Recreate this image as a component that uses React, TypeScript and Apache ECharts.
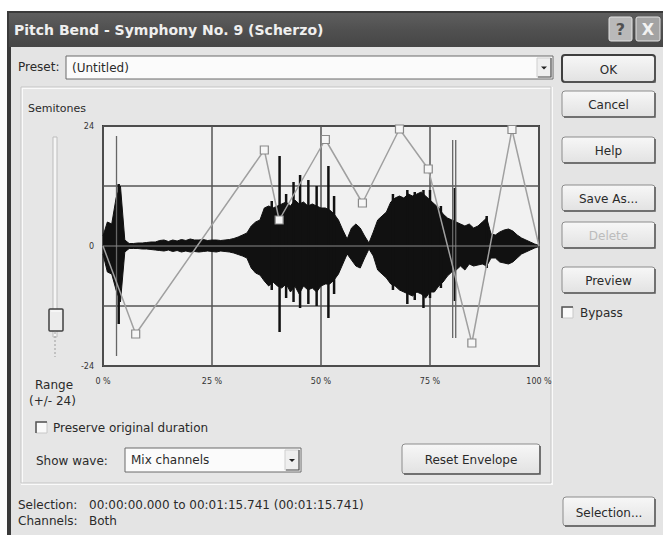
import React, { useEffect, useRef } from "react";
import * as echarts from "echarts";

// ---- data ----
const xTicks = [0, 25, 50, 75, 100];
const yTicks = [-24, 0, 24];

// waveform amplitude envelope, sampled every 1 % of the selection (semitone axis units)
const wavePct = Array.from({ length: 101 }, (_, i) => i);
const waveUpper = [
  2.0, 4.8, 4.4, 9.6, 12, 1.2, 0.5, 0.5, 0.6, 0.6,
  0.7, 0.8, 0.8, 1.1, 1.2, 0.9, 1.2, 1.0, 1.3, 1.1,
  1.4, 1.2, 1.2, 1.3, 1.1, 1.2, 1.2, 1.1, 1.2, 1.3,
  1.5, 1.8, 2.2, 2.6, 4.0, 4.8, 5.2, 7.6, 8.0, 7.6,
  8.0, 8.4, 8.8, 8.0, 9.2, 8.4, 8.8, 8.0, 8.4, 8.0,
  7.6, 7.6, 7.2, 6.4, 5.2, 3.2, 1.4, 3.6, 4.4, 3.6,
  2.0, 0.6, 2.8, 5.2, 6.0, 6.8, 8.8, 9.6, 10.0, 9.6,
  10.4, 10.0, 10.4, 10.8, 10.0, 9.2, 8.4, 7.6, 6.4, 5.6,
  5.2, 4.8, 4.4, 4.0, 4.4, 3.6, 4.0, 4.8, 5.6, 2.4,
  2.2, 2.8, 3.2, 3.4, 3.0, 2.2, 1.6, 1.2, 0.8, 0.4,
  0.1,
];
const waveLower = [
  -1.6, -5.2, -5.6, -8.8, -11.2, -1.2, -0.5, -0.5, -0.5, -0.6,
  -0.6, -0.7, -0.8, -0.9, -1.0, -0.8, -1.1, -0.9, -1.2, -1.0,
  -1.2, -1.1, -1.2, -1.1, -1.0, -1.1, -1.2, -1.0, -1.1, -1.2,
  -1.4, -1.7, -2.0, -2.4, -4.4, -5.4, -5.8, -7.0, -8.0, -7.2,
  -8.0, -8.4, -7.6, -9.2, -8.0, -9.6, -8.0, -8.8, -8.4, -9.2,
  -8.0, -7.6, -7.6, -6.8, -5.6, -3.6, -1.6, -2.8, -4.0, -4.4,
  -2.4, -0.6, -2.0, -4.8, -5.6, -6.4, -7.6, -8.0, -8.8, -9.2,
  -9.6, -10.0, -9.2, -9.6, -10.4, -9.2, -9.2, -8.0, -7.2, -6.0,
  -5.2, -4.8, -4.0, -4.8, -3.6, -4.0, -3.8, -3.6, -4.0, -2.4,
  -2.4, -3.2, -3.4, -3.6, -3.2, -2.4, -1.6, -1.2, -0.8, -0.4,
  -0.1,
];

// transient peaks in the waveform
const peakPct = [3.6, 38.7, 40.5, 42, 43.7, 45.2, 47.1, 49, 51.7, 53, 66.5, 69.8, 71.5, 73.5, 75, 77.5, 80.7, 88];
const peakTop = [12.4, 9.0, 18, 10.4, 12.8, 14.2, 13.2, 12, 16, 10, 10.4, 11.2, 10.8, 11.2, 11.2, 8.0, 11.6, 6];
const peakBottom = [-15.6, -8.8, -17.2, -10.4, -11.2, -12.4, -11.6, -12, -14.4, -9.6, -8.8, -11.6, -10.8, -12.4, -10.4, -8.4, -11, -4.4];

// thin grey click lines
const clickPct = [3.1, 80.2, 80.9];
const clickTop = [22, 21.2, 21.2];
const clickBottom = [-22, -18.4, -18.4];

// pitch-bend envelope points (semitones)
const envPct = [0, 7.5, 37, 40.4, 51, 59.5, 68, 74.6, 84.6, 93.8, 100];
const envSemitones = [0, -17.6, 19.2, 5.2, 21.3, 8.6, 23.4, 15.4, -19.4, 23.3, 0];

const FONT = "DejaVu Sans, Verdana, sans-serif";

function txt(x: number, y: number, text: string, size = 12, opts: any = {}) {
  const align = opts.align || "left";
  return {
    type: "text",
    x,
    y,
    z: 5,
    style: {
      text,
      fill: opts.color || "#2a2a2a",
      font: `${opts.bold ? "bold " : ""}${size}px ${FONT}`,
      align,
      textAlign: align,
      verticalAlign: "middle",
      textVerticalAlign: "middle",
    },
  };
}

function button(x: number, y: number, w: number, h: number, label: string, opts: any = {}) {
  return [
    {
      type: "rect",
      z: 3,
      shape: { x, y, width: w, height: h, r: 3 },
      style: {
        fill: {
          type: "linear", x: 0, y: 0, x2: 0, y2: 1,
          colorStops: [
            { offset: 0, color: "#f7f7f7" },
            { offset: 1, color: "#e2e2e2" },
          ],
        },
        stroke: opts.def ? "#3f3f3f" : "#8c8c8c",
        lineWidth: opts.def ? 2 : 1,
      },
    },
    {
      type: "polyline",
      z: 4,
      shape: { points: [[x + 2, y + h], [x + w, y + h], [x + w, y + 2]] },
      style: { stroke: "#5a5a5a", lineWidth: 1.5, fill: null },
    },
    txt(x + w / 2, y + h / 2 + 1, label, 12, { align: "center", color: opts.disabled ? "#bcbcbc" : "#2a2a2a" }),
  ];
}

function checkbox(x: number, y: number) {
  return [
    { type: "rect", z: 3, shape: { x, y, width: 11, height: 11 }, style: { fill: "#fafafa", stroke: "#c8c8c8", lineWidth: 1 } },
    { type: "polyline", z: 4, shape: { points: [[x, y + 11], [x, y], [x + 11, y]] }, style: { stroke: "#555", lineWidth: 1.5, fill: null } },
  ];
}

function combo(x: number, y: number, w: number, h: number, label: string) {
  const ax = x + w - 16;
  return [
    { type: "rect", z: 3, shape: { x, y, width: w, height: h }, style: { fill: "#fbfbfb", stroke: "#6a6a6a", lineWidth: 1 } },
    { type: "rect", z: 4, shape: { x: ax, y: y + 2, width: 14, height: h - 4 }, style: { fill: "#efefef", stroke: "#cfcfcf", lineWidth: 1 } },
    { type: "polyline", z: 4, shape: { points: [[ax + 1, y + h - 2], [ax + 14, y + h - 2], [ax + 14, y + 2]] }, style: { stroke: "#555", lineWidth: 1.2, fill: null } },
    { type: "polygon", z: 5, shape: { points: [[ax + 4, y + h / 2 - 1], [ax + 10, y + h / 2 - 1], [ax + 7, y + h / 2 + 2]] }, style: { fill: "#222" } },
    txt(x + 6, y + h / 2, label, 12),
  ];
}

export default function App() {
  const ref = useRef<HTMLDivElement>(null);
  useEffect(() => {
    if (!ref.current) return;
    const chart = echarts.init(ref.current, null, { renderer: "svg" });

    const graphic: any[] = [
      // window frame
      { type: "rect", z: -10, shape: { x: 7, y: 11, width: 656, height: 524 }, style: { fill: "#3a3a3a" } },
      {
        type: "rect", z: -9, shape: { x: 9, y: 13, width: 654, height: 34 },
        style: {
          fill: {
            type: "linear", x: 0, y: 0, x2: 0, y2: 1,
            colorStops: [
              { offset: 0, color: "#5e5e5e" },
              { offset: 0.5, color: "#505050" },
              { offset: 1, color: "#464646" },
            ],
          },
        },
      },
      { type: "rect", z: -9, shape: { x: 11, y: 47, width: 652, height: 488 }, style: { fill: "#e4e4e4" } },
      txt(14, 30, "Pitch Bend - Symphony No. 9 (Scherzo)", 14, { bold: true, color: "#efefef" }),
      // title bar buttons
      { type: "rect", z: 3, shape: { x: 609, y: 17, width: 23, height: 24, r: 2 }, style: { fill: "#b9b9b9", stroke: "#e2e2e2", lineWidth: 1 } },
      txt(620.5, 29.5, "?", 16, { align: "center", bold: true, color: "#505050" }),
      { type: "rect", z: 3, shape: { x: 636, y: 17, width: 24, height: 24, r: 2 }, style: { fill: "#a3a3a3", stroke: "#e2e2e2", lineWidth: 1 } },
      txt(648, 29.5, "X", 16, { align: "center", bold: true, color: "#f2f2f2" }),
      // preset row
      txt(18, 67, "Preset:", 12),
      ...combo(66, 56, 487, 23, "(Untitled)"),
      // right buttons
      ...button(562, 55, 93, 27, "OK", { def: true }),
      ...button(562, 91, 93, 26, "Cancel"),
      ...button(562, 137, 93, 26, "Help"),
      ...button(562, 185, 93, 26, "Save As..."),
      ...button(562, 222, 93, 26, "Delete", { disabled: true }),
      ...button(562, 267, 93, 26, "Preview"),
      ...checkbox(562, 307),
      txt(580, 313, "Bypass", 12),
      // group panel
      { type: "rect", z: -8, shape: { x: 22, y: 88, width: 530, height: 396 }, style: { fill: "#e6e6e6", stroke: "#fafafa", lineWidth: 2 } },
      { type: "rect", z: -7, shape: { x: 21, y: 87, width: 530, height: 396 }, style: { fill: null, stroke: "#c4c4c4", lineWidth: 1 } },
      txt(28, 108, "Semitones", 11),
      // slider
      { type: "rect", z: 3, shape: { x: 53, y: 137, width: 4, height: 200 }, style: { fill: "#f5f5f5", stroke: "#bdbdbd", lineWidth: 1 } },
      { type: "line", z: 3, shape: { x1: 55, y1: 332, x2: 55, y2: 357 }, style: { stroke: "#9c9c9c", lineWidth: 1, lineDash: [2, 2] } },
      { type: "rect", z: 4, shape: { x: 49, y: 309, width: 14, height: 22, r: 1 }, style: { fill: "#ececec", stroke: "#404040", lineWidth: 1.5 } },
      { type: "line", z: 5, shape: { x1: 51, y1: 311, x2: 61, y2: 311 }, style: { stroke: "#ffffff", lineWidth: 1 } },
      txt(35, 385, "Range", 12),
      txt(29, 401, "(+/- 24)", 12),
      // preserve duration
      ...checkbox(36, 422),
      txt(53, 428, "Preserve original duration", 12),
      // show wave row
      txt(36, 461, "Show wave:", 12),
      ...combo(125, 448, 176, 24, "Mix channels"),
      ...button(402, 444, 138, 30, "Reset Envelope"),
      // status
      txt(18, 505, "Selection:", 12),
      txt(89, 505, "00:00:00.000 to 00:01:15.741 (00:01:15.741)", 12),
      txt(18, 521, "Channels:", 12),
      txt(89, 521, "Both", 12),
      ...button(563, 497, 92, 29, "Selection..."),
    ];

    const option: any = {
      animation: false,
      backgroundColor: "#ffffff",
      textStyle: { fontFamily: FONT },
      graphic: { elements: graphic },
      grid: {
        left: 103,
        top: 126,
        width: 436,
        height: 240,
        show: true,
        backgroundColor: "#f1f1f1",
        borderColor: "#3a3a3a",
        borderWidth: 2,
      },
      xAxis: {
        type: "value",
        min: 0,
        max: 100,
        interval: 25,
        z: 1,
        axisLine: { show: false },
        axisTick: { show: false },
        axisLabel: {
          margin: 11,
          fontSize: 8,
          color: "#333",
          fontFamily: FONT,
          formatter: (v: number) => (xTicks.includes(v) ? `${v} %` : ""),
        },
        splitLine: { show: true, lineStyle: { color: "#555", width: 1.5 } },
      },
      yAxis: {
        type: "value",
        min: -24,
        max: 24,
        interval: 12,
        z: 1,
        axisLine: { show: false },
        axisTick: { show: false },
        axisLabel: {
          margin: 9,
          fontSize: 8,
          color: "#333",
          fontFamily: FONT,
          formatter: (v: number) => (yTicks.includes(v) ? String(v) : ""),
        },
        splitLine: { show: true, lineStyle: { color: "#555", width: 1.5 } },
      },
      series: [
        {
          type: "line",
          z: 2,
          symbol: "none",
          data: wavePct.map((p, i) => [p, waveUpper[i]]),
          lineStyle: { color: "#111", width: 1 },
          areaStyle: { color: "#111", opacity: 1, origin: 0 },
          silent: true,
        },
        {
          type: "line",
          z: 2,
          symbol: "none",
          data: wavePct.map((p, i) => [p, waveLower[i]]),
          lineStyle: { color: "#111", width: 1 },
          areaStyle: { color: "#111", opacity: 1, origin: 0 },
          silent: true,
        },
        {
          type: "custom",
          z: 2,
          clip: true,
          encode: { x: 0, y: [1, 2] },
          data: peakPct.map((p, i) => [p, peakTop[i], peakBottom[i]]),
          renderItem: (params: any, api: any) => {
            const a = api.coord([api.value(0), api.value(1)]);
            const b = api.coord([api.value(0), api.value(2)]);
            return { type: "line", shape: { x1: a[0], y1: a[1], x2: b[0], y2: b[1] }, style: { stroke: "#111", lineWidth: 2.5 } };
          },
        },
        {
          type: "custom",
          z: 3,
          clip: true,
          encode: { x: 0, y: [1, 2] },
          data: clickPct.map((p, i) => [p, clickTop[i], clickBottom[i]]),
          renderItem: (params: any, api: any) => {
            const a = api.coord([api.value(0), api.value(1)]);
            const b = api.coord([api.value(0), api.value(2)]);
            return { type: "line", shape: { x1: a[0], y1: a[1], x2: b[0], y2: b[1] }, style: { stroke: "#666", lineWidth: 1.3 } };
          },
        },
        {
          type: "line",
          z: 3,
          symbol: "none",
          data: [[0, 0], [100, 0]],
          lineStyle: { color: "#8a8a8a", width: 1 },
          silent: true,
        },
        {
          type: "line",
          z: 4,
          symbol: "rect",
          symbolSize: 8,
          showAllSymbol: true,
          data: envPct.map((p, i) => ({
            value: [p, envSemitones[i]],
            symbol: i === 0 || i === envPct.length - 1 ? "none" : "rect",
          })),
          lineStyle: { color: "#a0a0a0", width: 1.5 },
          itemStyle: { color: "#f6f6f6", borderColor: "#8a8a8a", borderWidth: 1.2 },
        },
      ],
    };
    chart.setOption(option);
    return () => chart.dispose();
  }, []);
  return (
    <div
      ref={ref}
      style={{ position: "absolute", left: 0, top: 0, width: 663, height: 535 }}
    />
  );
}
